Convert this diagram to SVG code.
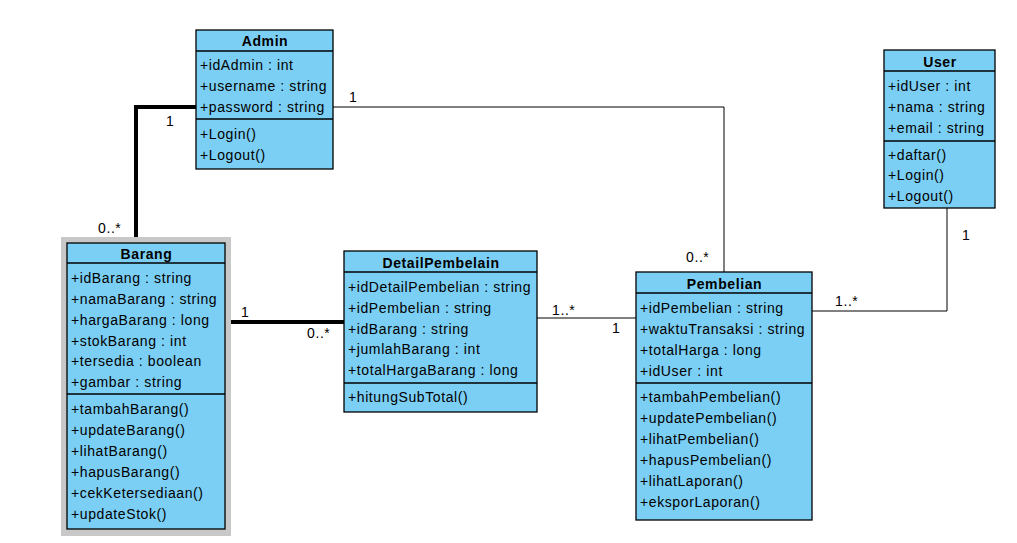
<svg xmlns="http://www.w3.org/2000/svg" width="1017" height="543" viewBox="0 0 1017 543">
  <style>
    .box { fill: #7CCFF4; stroke: #000; stroke-width: 1.3; }
    .sep { stroke: #000; stroke-width: 1.3; }
    .t { font-family: "Liberation Sans", Arial, sans-serif; font-size: 14px; letter-spacing: 0.6px; fill: #000; }
    .title { font-family: "Liberation Sans", Arial, sans-serif; font-size: 14px; letter-spacing: 0.6px; font-weight: bold; fill: #000; text-anchor: middle; }
    .thin { fill: none; stroke: #000; stroke-width: 1; }
    .thick { fill: none; stroke: #000; stroke-width: 4; }
    .lbl { font-family: "Liberation Sans", Arial, sans-serif; font-size: 14px; letter-spacing: 0.6px; fill: #000; }
  </style>

  <!-- connectors -->
  <g id="connectors">
    <polyline class="thick" points="196,107 136,107 136,241"/>
    <polyline class="thin" points="333,107 724,107 724,272"/>
    <line class="thick" x1="229" y1="322" x2="344" y2="322"/>
    <line class="thin" x1="537" y1="318" x2="636" y2="318"/>
    <polyline class="thin" points="812,311 947,311 947,208"/>
    <text class="lbl" x="166" y="126">1</text>
    <text class="lbl" x="98" y="233">0..*</text>
    <text class="lbl" x="349" y="102">1</text>
    <text class="lbl" x="686" y="262">0..*</text>
    <text class="lbl" x="241" y="317">1</text>
    <text class="lbl" x="307" y="338">0..*</text>
    <text class="lbl" x="552" y="315">1..*</text>
    <text class="lbl" x="612" y="333">1</text>
    <text class="lbl" x="835" y="306">1..*</text>
    <text class="lbl" x="962" y="240">1</text>
  </g>

  <!-- Admin -->
  <g id="admin">
    <rect class="box" x="196" y="30" width="137" height="139"/>
    <line class="sep" x1="196" y1="51" x2="333" y2="51"/>
    <line class="sep" x1="196" y1="119" x2="333" y2="119"/>
    <text class="title" x="265" y="46">Admin</text>
    <text class="t" x="200" y="70">+idAdmin : int</text>
    <text class="t" x="200" y="91">+username : string</text>
    <text class="t" x="200" y="112">+password : string</text>
    <text class="t" x="200" y="139">+Login()</text>
    <text class="t" x="200" y="160">+Logout()</text>
  </g>

  <!-- Barang (selected) -->
  <g id="barang">
    <rect x="61" y="237" width="170" height="299" fill="#C8C8C8"/>
    <rect class="box" x="67" y="243" width="158" height="286"/>
    <line class="sep" x1="67" y1="263" x2="225" y2="263"/>
    <line class="sep" x1="67" y1="394" x2="225" y2="394"/>
    <text class="title" x="146.5" y="259">Barang</text>
    <text class="t" x="71" y="283">+idBarang : string</text>
    <text class="t" x="71" y="304">+namaBarang : string</text>
    <text class="t" x="71" y="325">+hargaBarang : long</text>
    <text class="t" x="71" y="346">+stokBarang : int</text>
    <text class="t" x="71" y="366">+tersedia : boolean</text>
    <text class="t" x="71" y="387">+gambar : string</text>
    <text class="t" x="71" y="414">+tambahBarang()</text>
    <text class="t" x="71" y="435">+updateBarang()</text>
    <text class="t" x="71" y="456">+lihatBarang()</text>
    <text class="t" x="71" y="477">+hapusBarang()</text>
    <text class="t" x="71" y="498">+cekKetersediaan()</text>
    <text class="t" x="71" y="519">+updateStok()</text>
  </g>

  <!-- DetailPembelain -->
  <g id="detailpembelain">
    <rect class="box" x="344" y="251" width="193" height="161"/>
    <line class="sep" x1="344" y1="272" x2="537" y2="272"/>
    <line class="sep" x1="344" y1="383" x2="537" y2="383"/>
    <text class="title" x="441" y="268">DetailPembelain</text>
    <text class="t" x="348" y="292">+idDetailPembelian : string</text>
    <text class="t" x="348" y="313">+idPembelian : string</text>
    <text class="t" x="348" y="334">+idBarang : string</text>
    <text class="t" x="348" y="354">+jumlahBarang : int</text>
    <text class="t" x="348" y="375">+totalHargaBarang : long</text>
    <text class="t" x="348" y="402">+hitungSubTotal()</text>
  </g>

  <!-- Pembelian -->
  <g id="pembelian">
    <rect class="box" x="636" y="272" width="176" height="248"/>
    <line class="sep" x1="636" y1="293" x2="812" y2="293"/>
    <line class="sep" x1="636" y1="383" x2="812" y2="383"/>
    <text class="title" x="724.5" y="289">Pembelian</text>
    <text class="t" x="640" y="313">+idPembelian : string</text>
    <text class="t" x="640" y="334">+waktuTransaksi : string</text>
    <text class="t" x="640" y="355">+totalHarga : long</text>
    <text class="t" x="640" y="376">+idUser : int</text>
    <text class="t" x="640" y="402">+tambahPembelian()</text>
    <text class="t" x="640" y="423">+updatePembelian()</text>
    <text class="t" x="640" y="444">+lihatPembelian()</text>
    <text class="t" x="640" y="465">+hapusPembelian()</text>
    <text class="t" x="640" y="486">+lihatLaporan()</text>
    <text class="t" x="640" y="507">+eksporLaporan()</text>
  </g>

  <!-- User -->
  <g id="user">
    <rect class="box" x="884" y="50" width="111" height="158"/>
    <line class="sep" x1="884" y1="71" x2="995" y2="71"/>
    <line class="sep" x1="884" y1="141" x2="995" y2="141"/>
    <text class="title" x="940" y="67">User</text>
    <text class="t" x="888" y="91">+idUser : int</text>
    <text class="t" x="888" y="112">+nama : string</text>
    <text class="t" x="888" y="133">+email : string</text>
    <text class="t" x="888" y="160">+daftar()</text>
    <text class="t" x="888" y="180">+Login()</text>
    <text class="t" x="888" y="201">+Logout()</text>
  </g>
</svg>
